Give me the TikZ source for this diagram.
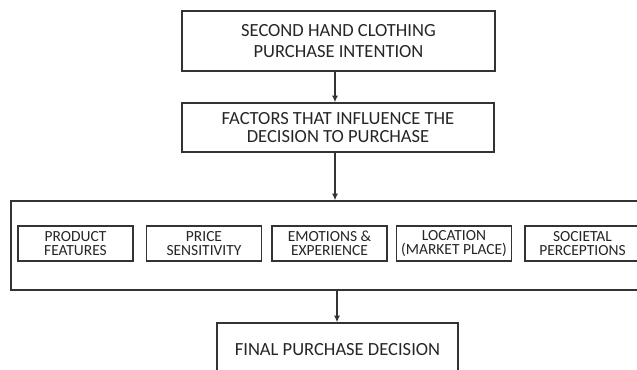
\documentclass[tikz,border=0pt]{standalone}
\usepackage{fontspec}
\setmainfont{Carlito}
\usetikzlibrary{arrows.meta}
\definecolor{lc}{HTML}{333333}
\definecolor{tc}{HTML}{262626}
\tikzset{
  box/.style={draw=lc, line width=1pt, fill=white, align=center, inner sep=0pt, text=tc},
  bigtext/.style={font=\fontsize{13.9pt}{15.75pt}\selectfont},
  midtext/.style={font=\fontsize{13.9pt}{13.5pt}\selectfont},
  smalltext/.style={font=\fontsize{11.6pt}{10.5pt}\selectfont},
  factor/.style={box, smalltext, minimum width=115*0.75pt, minimum height=35*0.75pt},
  arr/.style={draw=lc, line width=1pt, -{Latex[length=5pt,width=4.5pt]}}
}
\begin{document}
\begin{tikzpicture}[x=0.75pt,y=-0.75pt]
\clip (0,0) rectangle (637,369);
\useasboundingbox (0,0) rectangle (637,369);
\node[box, bigtext, minimum width=313*0.75pt, minimum height=60*0.75pt] (intent) at (338.5,41) {SECOND HAND CLOTHING\\PURCHASE INTENTION};
\node[box, midtext, minimum width=312*0.75pt, minimum height=49*0.75pt] (factors) at (338,127.5) {FACTORS THAT INFLUENCE THE\\DECISION TO PURCHASE};
\node[box, minimum width=649*0.75pt, minimum height=89*0.75pt] (group) at (335.5,245.5) {};
\node[factor] (f1) at (75.5,243.5) {PRODUCT\\FEATURES};
\node[factor] (f2) at (204,243.5) {PRICE\\SENSITIVITY};
\node[factor] (f3) at (329.5,243.5) {EMOTIONS \&\\EXPERIENCE};
\node[factor] (f4) at (454,243.5) {LOCATION\\(MARKET PLACE)};
\node[factor] (f5) at (582.5,243.5) {SOCIETAL\\PERCEPTIONS};
\node[box, bigtext, minimum width=241*0.75pt, minimum height=54*0.75pt] (final) at (337.5,350) {FINAL PURCHASE DECISION};
\draw[arr] ([xshift=-3.5*0.75pt]intent.south) -- ([xshift=-3.5*0.75pt]intent.south |- factors.north);
\draw[arr] ([xshift=-3*0.75pt]factors.south) -- ([xshift=-3*0.75pt]factors.south |- group.north);
\draw[arr] ([xshift=1.5*0.75pt]group.south) -- ([xshift=1.5*0.75pt]group.south |- final.north);
\end{tikzpicture}
\end{document}
